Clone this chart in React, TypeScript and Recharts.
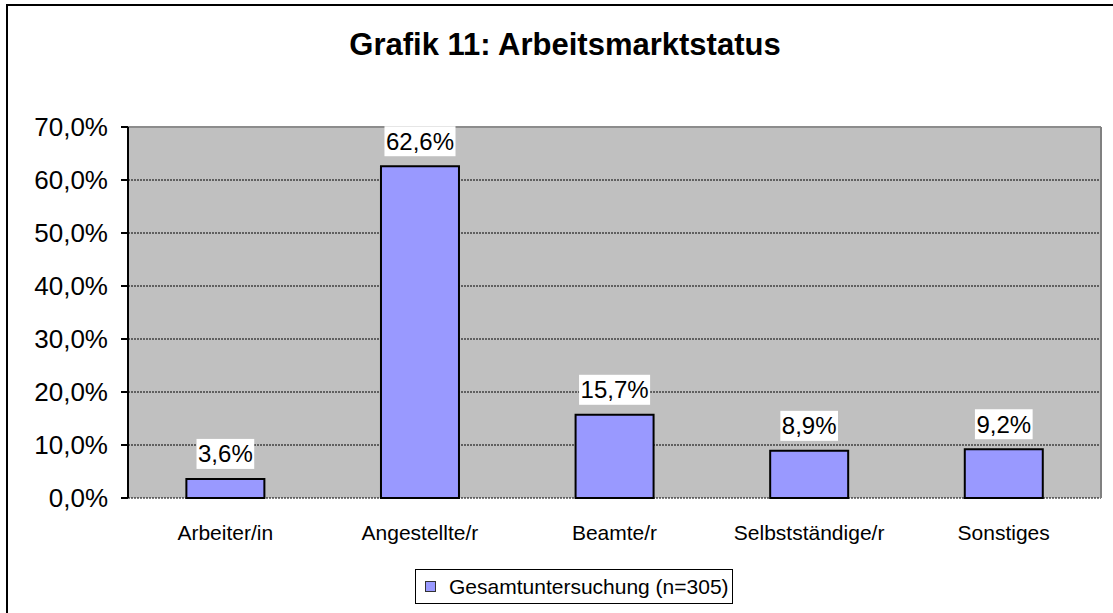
import React from 'react';
import { BarChart, Bar, XAxis, YAxis, CartesianGrid, Legend, LabelList, ReferenceLine } from 'recharts';

const categories = ['Arbeiter/in', 'Angestellte/r', 'Beamte/r', 'Selbstständige/r', 'Sonstiges'];
const shares = [3.6, 62.6, 15.7, 8.9, 9.2];
const yTicks = [0, 10, 20, 30, 40, 50, 60, 70];
const seriesName = 'Gesamtuntersuchung (n=305)';

const data = categories.map((name, i) => ({ name, value: shares[i] }));

const font = '"Liberation Sans", Arial, sans-serif';
const pct = (v: number) => `${v.toFixed(1).replace('.', ',')}%`;

// rough Arial advance widths, used to size the white label boxes
const charW = (c: string) => (c === ',' ? 0.278 : c === '%' ? 0.889 : 0.556);

const BarLabel = (props: any) => {
  const { x, y, width, value } = props;
  const fs = 24;
  const text = pct(value);
  const w = text.split('').reduce((s, c) => s + charW(c), 0) * fs + 3;
  const cx = x + width / 2;
  return (
    <g>
      <rect x={cx - w / 2} y={y - 40} width={w} height={30} fill="#fff" />
      <text x={cx} y={y - 25} textAnchor="middle" dominantBaseline="central" fontSize={fs} fill="#000" fontFamily={font}>
        {text}
      </text>
    </g>
  );
};

const LegendBox = () => (
  <div
    style={{
      border: '1px solid #000',
      height: 33,
      width: 316,
      boxSizing: 'content-box',
      display: 'flex',
      alignItems: 'center',
      fontFamily: font,
      fontSize: 21,
      color: '#000',
      background: '#fff',
    }}
  >
    <span style={{ display: 'inline-block', width: 9, height: 9, background: '#9999FF', border: '1px solid #333', marginLeft: 9, marginRight: 13 }} />
    <span>{seriesName}</span>
  </div>
);

export default function App() {
  return (
    <div style={{ position: 'fixed', left: 0, top: 0, width: 1113, height: 613, overflow: 'hidden', background: '#fff' }}>
      <div style={{ position: 'absolute', left: 0, top: 27, width: 1130, textAlign: 'center', fontFamily: font, fontWeight: 'bold', fontSize: 31 }}>
        Grafik 11: Arbeitsmarktstatus
      </div>
      <div style={{ position: 'absolute', left: 0, top: 0 }}>
        <BarChart width={1113} height={613} data={data} margin={{ top: 127, right: 0, left: 0, bottom: 40 }} barCategoryGap="30%">
          <CartesianGrid vertical={false} fill="#C0C0C0" stroke="#000" strokeDasharray="2 1" />
          <XAxis xAxisId="edges" type="number" domain={[0, 5]} ticks={[0, 1, 2, 3, 4, 5]} tick={false} tickSize={8} height={0} axisLine={{ stroke: '#000', strokeWidth: 2 }} tickLine={{ stroke: '#000', strokeWidth: 2 }} />
          <XAxis dataKey="name" height={40} tickLine={false} axisLine={false} tickSize={0} tickMargin={27} tick={{ fill: '#000', fontSize: 21, fontFamily: font }} interval={0} />
          <YAxis domain={[0, 70]} ticks={yTicks} tickFormatter={pct} width={128} tickSize={7} tickMargin={13} axisLine={{ stroke: '#000', strokeWidth: 2 }} tickLine={{ stroke: '#000', strokeWidth: 2 }} tick={{ fill: '#000', fontSize: 26, fontFamily: font }} />
          <YAxis yAxisId="frame" orientation="right" width={12} tick={false} tickLine={false} axisLine={{ stroke: '#808080', strokeWidth: 2 }} />
          <ReferenceLine y={70} stroke="#8c8c8c" strokeWidth={2} />
          <Legend content={() => <LegendBox />} wrapperStyle={{ position: 'absolute', left: 415, top: 569, width: 318, bottom: 'auto' }} />
          <Bar dataKey="value" name={seriesName} fill="#9999FF" stroke="#000" strokeWidth={2} isAnimationActive={false}>
            <LabelList dataKey="value" content={BarLabel} />
          </Bar>
        </BarChart>
      </div>
      <div style={{ position: 'absolute', left: 6, top: 4, width: 1200, height: 700, borderLeft: '2px solid #000', borderTop: '2px solid #000', zIndex: 10, pointerEvents: 'none' }} />
    </div>
  );
}
